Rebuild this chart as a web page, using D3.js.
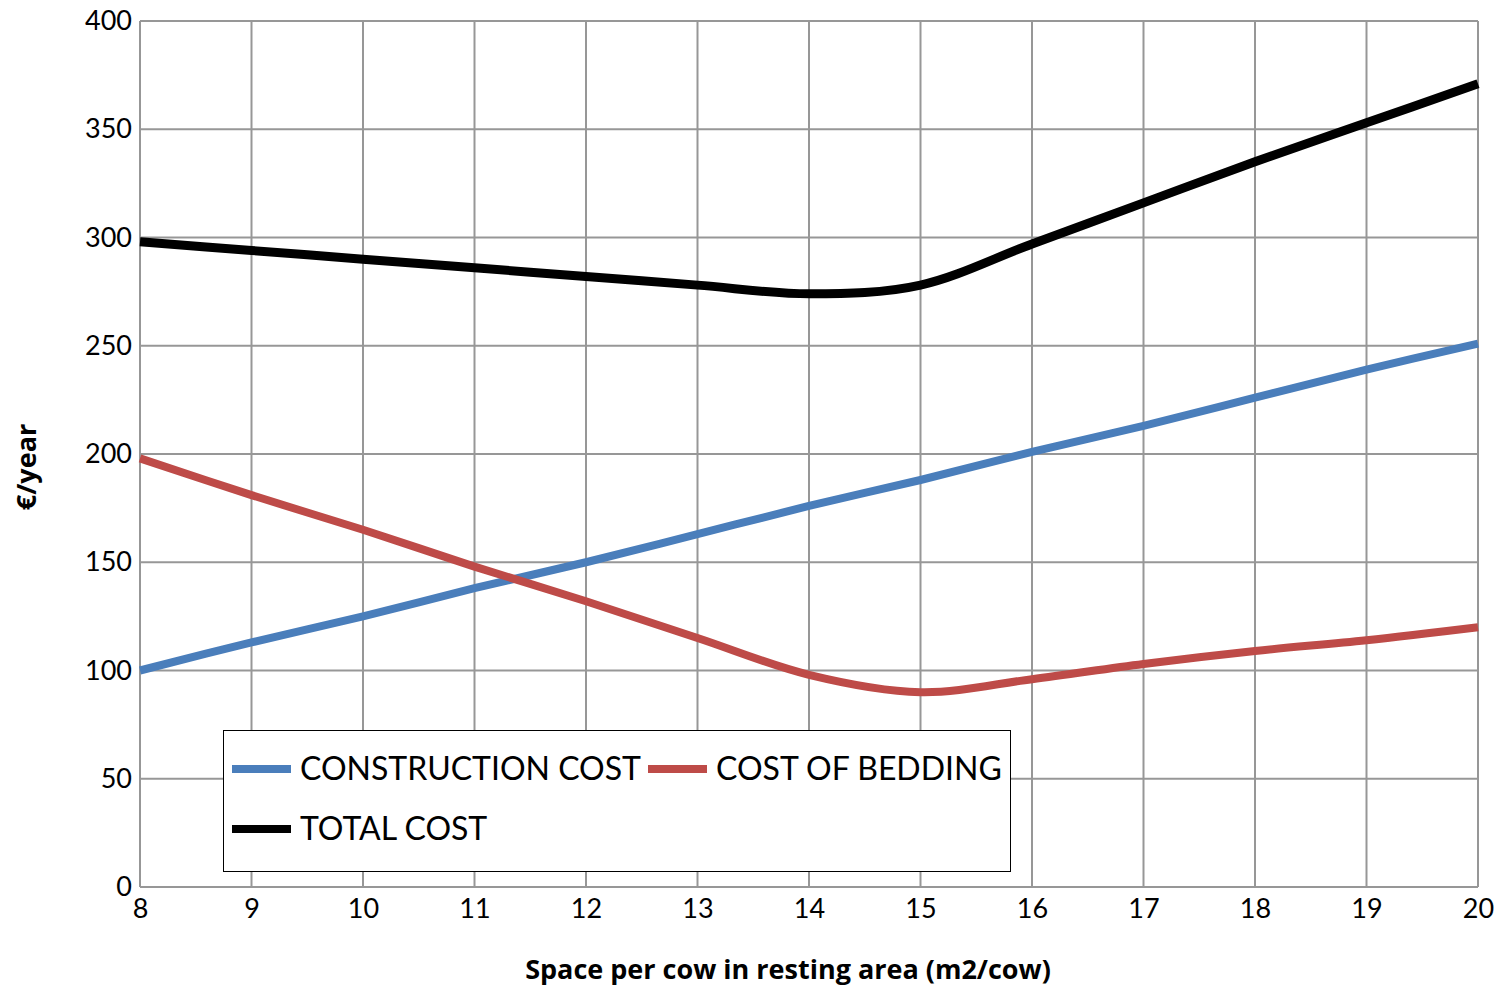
<!DOCTYPE html>
<html>
<head>
<meta charset="utf-8">
<script src="https://cdn.jsdelivr.net/npm/d3@7"></script>
<style>
  html, body { margin: 0; padding: 0; background: #fff; }
  svg { display: block; font-family: Lato, "Open Sans", "Liberation Sans", sans-serif; }
</style>
</head>
<body>
<svg id="chart" width="1512" height="989"></svg>
<script>
// Space per cow in resting area (m2/cow)
const space = [8, 9, 10, 11, 12, 13, 14, 15, 16, 17, 18, 19, 20];
// Annual costs, €/year
const constructionCost = [100, 113, 125, 138, 150, 163, 176, 188, 201, 213, 226, 239, 251];
const beddingCost      = [198, 181, 165, 148, 132, 115, 98, 90, 96, 103, 109, 114, 120];
const totalCost        = [298, 294, 290, 286, 282, 278, 274, 278, 297, 316, 335, 353, 371];

const yTicks = [0, 50, 100, 150, 200, 250, 300, 350, 400];
const xTicks = [8, 9, 10, 11, 12, 13, 14, 15, 16, 17, 18, 19, 20];

const seriesNames = ["CONSTRUCTION COST", "COST OF BEDDING", "TOTAL COST"];
const seriesColors = ["#4A7EBB", "#BE4B48", "#000000"];
const seriesValues = [constructionCost, beddingCost, totalCost];

const margin = { left: 140, top: 21, right: 1512 - 1478, bottom: 989 - 887 };
const W = 1512, H = 989;

const svg = d3.select("#chart");
const x = d3.scaleLinear().domain([8, 20]).range([margin.left, W - margin.right]);
const y = d3.scaleLinear().domain([0, 400]).range([H - margin.bottom, margin.top]);

// grid
const grid = svg.append("g");
grid.selectAll("line.v").data(xTicks).join("line")
  .attr("x1", d => x(d)).attr("x2", d => x(d))
  .attr("y1", y(400)).attr("y2", y(0))
  .attr("stroke", "#979797").attr("stroke-width", 2);
grid.selectAll("line.h").data(yTicks).join("line")
  .attr("x1", x(8)).attr("x2", x(20))
  .attr("y1", d => y(d)).attr("y2", d => y(d))
  .attr("stroke", "#979797").attr("stroke-width", 2);

// axis tick labels
const yAxis = d3.axisLeft(y).tickValues(yTicks).tickSize(0).tickPadding(8);
svg.append("g").attr("transform", `translate(${x(8)},0)`).call(yAxis)
  .call(g => g.select(".domain").remove())
  .call(g => g.selectAll("text").attr("font-size", 27).attr("fill", "#000")
    .attr("font-family", "Lato, 'Open Sans', sans-serif"));

const xAxis = d3.axisBottom(x).tickValues(xTicks).tickSize(0).tickPadding(12).tickFormat(d3.format("d"));
svg.append("g").attr("transform", `translate(0,${y(0)})`).call(xAxis)
  .call(g => g.select(".domain").remove())
  .call(g => g.selectAll("text").attr("font-size", 27).attr("fill", "#000")
    .attr("font-family", "Lato, 'Open Sans', sans-serif"));

// series
const line = d3.line().curve(d3.curveCardinal.tension(0));
seriesValues.forEach((vals, i) => {
  svg.append("path")
    .datum(space.map((s, j) => [x(s), y(vals[j])]))
    .attr("d", line)
    .attr("fill", "none")
    .attr("stroke", seriesColors[i])
    .attr("stroke-width", i === 2 ? 9 : 8)
    .attr("stroke-linejoin", "round");
});

// axis titles
svg.append("text")
  .attr("x", 788).attr("y", 979)
  .attr("text-anchor", "middle").attr("font-size", 27).attr("font-weight", "bold")
  .attr("font-family", "'Open Sans', Lato, sans-serif")
  .text("Space per cow in resting area (m2/cow)");
svg.append("text")
  .attr("transform", `translate(36,467) rotate(-90)`)
  .attr("text-anchor", "middle").attr("font-size", 27).attr("font-weight", "bold")
  .attr("font-family", "'Open Sans', Lato, sans-serif")
  .text("€/year");

// legend
const lg = svg.append("g");
lg.append("rect").attr("x", 223.5).attr("y", 730.5).attr("width", 787).attr("height", 141)
  .attr("fill", "#fff").attr("stroke", "#000").attr("stroke-width", 1);
const legendPos = [[232, 769], [648, 769], [232, 829]];
seriesNames.forEach((name, i) => {
  const [lx, ly] = legendPos[i];
  lg.append("line").attr("x1", lx).attr("x2", lx + 59).attr("y1", ly).attr("y2", ly)
    .attr("stroke", seriesColors[i]).attr("stroke-width", 8);
  lg.append("text").attr("x", lx + 68).attr("y", ly + 11)
    .attr("font-size", 32).attr("fill", "#000").text(name);
});
</script>
</body>
</html>
